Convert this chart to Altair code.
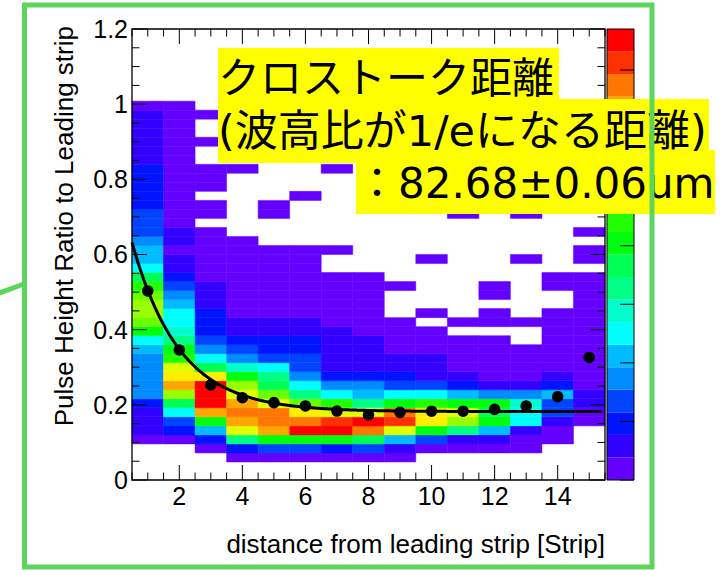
import altair as alt
import pandas as pd

N = None
# ---- 2D histogram: colour level (0..19) per y-bin (bin width 0.024), rows 0..41, None = empty
col01 = [N,N,N,N, 0,1,1,1, 2, 4,4,4,4,4, 5,6,10,12,13,13,12,11, 9,6,5,5,4,3,3,3, 2,2,2,2,2, 1,1,1,1,1,1, 0]
col02 = [N,N,N,N, 0,2,3,6,9,13,16,15,14,11,10,8,7,6,6,5,4,3,2,1,1,0,1,1] + [0]*14
col03 = [N,N,N, 0,2,5,10,16,19,19,19,15,9,6,4,3,2,2,2,1,1,1, 0,0,0,0,0,0, N,0,0,N,0,0,0,N,N,0,N,N,0,N]
col04 = [N,N, 0,2,8,14,16,17,16,14,13,10,7,4,3,2,1,1] + [0]*9 + [N]*7 + [0] + [N]*7
col05 = [N,N, 0,3,10,16,17,17,14,12,9,8,6,3,2,2,1,1] + [0]*8 + [N]*3 + [0,0] + [N]*11
col06 = [N,N, 0,3,10,19,17,15,12,8,6,4,3,3,2,2,1,1] + [0]*8 + [N]*5 + [0] + [N]*10
col07 = [N,N, 0,2,10,19,18,14,11,6,4,2,1,1,1,1,1,0] + [0]*5 + [N]*2 + [0] + [N]*8 + [0] + [N]*7
col08 = [N,N, 0,3,9,17,19,14,8,5,4,2,1,1,1,1] + [0]*7 + [N]*19
col09 = [N,N, 0,1,5,14,18,17,10,6,3,2,1,1] + [0]*4 + [N]*3 + [0] + [N]*20
col10 = [N,N,N, 0,3,10,15,15,11,6,3,1,1,1] + [0]*3 + [N] + [0] + [N]*5 + [0] + [N]*17
col11 = [N,N,N, 0,1,8,13,14,10,5,2,1] + [0]*4 + [N] + [0] + [N]*11 + [0] + [N]*12
col12 = [N,N,N, 0,1,5,10,9,10,4,1,0] + [0]*4 + [N] + [0,0] + [N] + [0,0] + [N]*20
col13 = [N,N,N, 0,0,1,6,6,7,4,1,0] + [0]*3 + [N]*2 + [0] + [N]*6 + [0] + [N]*4 + [0] + [N]*12
col14 = [N,N,N,N, 0,0,1,3,3,5,2,1] + [0]*7 + [N]*2 + [0,0] + [N]*19
col15 = [N]*6 + [0,0,1,1,0,0] + [0]*11 + [N] + [0,0] + [N] + [0] + [N]*14
columns = [col01, col02, col03, col04, col05, col06, col07, col08,
           col09, col10, col11, col12, col13, col14, col15]
strips = list(range(1, 16))
bin_h = 0.024

# ---- profile points and exponential fit
point_x = list(range(1, 16))
point_y = [0.503, 0.346, 0.253, 0.219, 0.206, 0.197, 0.1835, 0.173,
           0.180, 0.183, 0.183, 0.188, 0.197, 0.222, 0.326]
fit_const, fit_amp, fit_lambda = 0.182, 0.628, 1.503
fit_range = (0.5, 15.4)

# ---- palette (ROOT pretty palette, 20 contour levels) and z axis
palette = ["#6300FF", "#3300FF", "#0014FF", "#0044FF", "#008BFF", "#00BBFF",
           "#00FFFC", "#00FFCC", "#00FF85", "#00FF55", "#00FF0E", "#22FF00",
           "#69FF00", "#99FF00", "#E0FF00", "#FFEE00", "#FFA700", "#FF7700",
           "#FF3000", "#FF0000"]
z_max = 770
z_ticks = [0, 100, 200, 300, 400, 500, 600, 700]

# ---- axes
x_major = [2, 4, 6, 8, 10, 12, 14]
x_labels = ["2", "4", "6", "8", "10", "12", "14"]
x_minor = [i * 0.5 for i in range(1, 32) if i % 4 != 0]
y_major = [0, 0.2, 0.4, 0.6, 0.8, 1.0, 1.2]
y_labels = ["0", "0.2", "0.4", "0.6", "0.8", "1", "1.2"]
y_minor = [round(i * 0.05, 2) for i in range(1, 24) if i % 4 != 0]
x_title = "distance from leading strip [Strip]"
y_title = "Pulse Height Ratio to Leading strip"

W, H = 473, 451
FONT = "Liberation Sans"
JP = "DejaVu Sans, Noto Sans CJK JP"
GREEN = "#5DD55D"

cells = pd.DataFrame([
    dict(x0=s - 0.5, x1=s + 0.5, y0=j * bin_h, y1=(j + 1) * bin_h, level=lv)
    for s, col in zip(strips, columns) for j, lv in enumerate(col) if lv is not None
])
cbar = pd.DataFrame({"level": list(range(len(palette))),
                     "y0": [1.2 * k / len(palette) for k in range(len(palette))],
                     "y1": [1.2 * (k + 1) / len(palette) for k in range(len(palette))]})
cbar_t = pd.DataFrame({"y": [z / z_max * 1.2 for z in z_ticks]})
pts = pd.DataFrame({"x": point_x, "y": point_y})
one = pd.DataFrame({"a": [0]})

xs = alt.Scale(domain=[0.5, 15.5], nice=False, zero=False)
ys = alt.Scale(domain=[0, 1.2], nice=False, zero=False)
cs = alt.Scale(domain=list(range(len(palette))), range=palette)

heat = alt.Chart(cells).mark_rect(strokeWidth=0.5).encode(
    x=alt.X("x0:Q", scale=xs, axis=None), x2="x1:Q",
    y=alt.Y("y0:Q", scale=ys, axis=None), y2="y1:Q",
    color=alt.Color("level:O", scale=cs, legend=None),
    stroke=alt.Stroke("level:O", scale=cs, legend=None),
)

colorbar = alt.Chart(cbar).mark_rect().encode(
    x=alt.value(475), x2=alt.value(502),
    y=alt.Y("y0:Q", scale=ys, axis=None), y2="y1:Q",
    color=alt.Color("level:O", scale=cs, legend=None),
)
colorbar_box = alt.Chart(one).mark_rect(fillOpacity=0, stroke="black", strokeWidth=1).encode(
    x=alt.value(475), x2=alt.value(502), y=alt.value(0), y2=alt.value(H))
colorbar_ticks = alt.Chart(cbar_t).mark_rule(color="black", strokeWidth=1).encode(
    y=alt.Y("y:Q", scale=ys, axis=None), x=alt.value(488), x2=alt.value(502))


def xticks(vals, length):
    d = pd.DataFrame({"v": vals})
    b = alt.Chart(d).mark_rule(color="black", strokeWidth=1).encode(
        x=alt.X("v:Q", scale=xs, axis=None), y=alt.value(H), y2=alt.value(H - length))
    t = alt.Chart(d).mark_rule(color="black", strokeWidth=1).encode(
        x=alt.X("v:Q", scale=xs, axis=None), y=alt.value(0), y2=alt.value(length))
    return b + t


def yticks(vals, length):
    d = pd.DataFrame({"v": vals})
    l = alt.Chart(d).mark_rule(color="black", strokeWidth=1).encode(
        y=alt.Y("v:Q", scale=ys, axis=None), x=alt.value(0), x2=alt.value(length))
    r = alt.Chart(d).mark_rule(color="black", strokeWidth=1).encode(
        y=alt.Y("v:Q", scale=ys, axis=None), x=alt.value(W), x2=alt.value(W - length))
    return l + r


frame = alt.Chart(one).mark_rect(fillOpacity=0, stroke="black", strokeWidth=1.3).encode(
    x=alt.value(0), x2=alt.value(W), y=alt.value(0), y2=alt.value(H))

x_tick_text = alt.Chart(pd.DataFrame({"v": x_major, "t": x_labels})).mark_text(
    font=FONT, fontSize=25, color="black", align="center", baseline="alphabetic").encode(
    x=alt.X("v:Q", scale=xs, axis=None), y=alt.value(H + 25), text="t:N")
y_tick_text = alt.Chart(pd.DataFrame({"v": y_major, "t": y_labels})).mark_text(
    font=FONT, fontSize=25, color="black", align="right", baseline="alphabetic", dy=8.9).encode(
    y=alt.Y("v:Q", scale=ys, axis=None), x=alt.value(-4), text="t:N")
x_title_text = alt.Chart(one).mark_text(
    text=x_title, font=FONT, fontSize=26, color="black", align="right",
    baseline="alphabetic").encode(x=alt.value(W), y=alt.value(H + 73))
y_title_text = alt.Chart(one).mark_text(
    text=y_title, font=FONT, fontSize=26, color="black", align="right",
    baseline="alphabetic", angle=270).encode(x=alt.value(-59), y=alt.value(-3))

fit = alt.Chart(alt.sequence(fit_range[0], fit_range[1] + 0.001, 0.02, as_="x")).transform_calculate(
    f=f"{fit_const} + {fit_amp} * exp(-datum.x / {fit_lambda})"
).mark_line(color="black", strokeWidth=3).encode(
    x=alt.X("x:Q", scale=xs, axis=None), y=alt.Y("f:Q", scale=ys, axis=None))

points = alt.Chart(pts).mark_circle(size=135, color="black", opacity=1).encode(
    x=alt.X("x:Q", scale=xs, axis=None), y=alt.Y("y:Q", scale=ys, axis=None))


def box(x0, x1, y0, y1):
    return alt.Chart(one).mark_rect(color="#FFFF00").encode(
        x=alt.value(x0), x2=alt.value(x1), y=alt.value(y0), y2=alt.value(y1))


def label(txt, x, y, size):
    return alt.Chart(one).mark_text(text=txt, align="left", baseline="middle",
                                    font=JP, fontSize=size, color="black").encode(
        x=alt.value(x), y=alt.value(y))


boxes = box(86, 427, 19, 70) + box(86, 577, 70, 134) + box(224, 583, 121, 185)
texts = (label("クロストーク距離", 86, 51, 42)
         + label("(波高比が1/eになる距離)", 86, 104, 43)
         + label("：82.68±0.06um", 224, 156, 42))

green_frame = alt.Chart(one).mark_rect(fillOpacity=0, stroke=GREEN, strokeWidth=5).encode(
    x=alt.value(-107.5), x2=alt.value(520), y=alt.value(-24), y2=alt.value(538))
green_line = alt.Chart(one).mark_rule(color=GREEN, strokeWidth=5).encode(
    x=alt.value(-134), y=alt.value(264.5), x2=alt.value(-108), y2=alt.value(255))

chart = alt.layer(
    heat, colorbar, colorbar_box, colorbar_ticks,
    xticks(x_major, 15), xticks(x_minor, 7.5), yticks(y_major, 15), yticks(y_minor, 7.5),
    frame, x_tick_text, y_tick_text, x_title_text, y_title_text,
    fit, points, boxes, texts, green_frame, green_line,
).properties(
    width=W, height=H,
    autosize=alt.AutoSizeParams(type="none"),
    padding={"left": 132, "top": 29, "right": 118, "bottom": 90},
).configure_view(stroke="transparent")

chart.save("out.html", embed_options={"renderer": "svg", "actions": False})
